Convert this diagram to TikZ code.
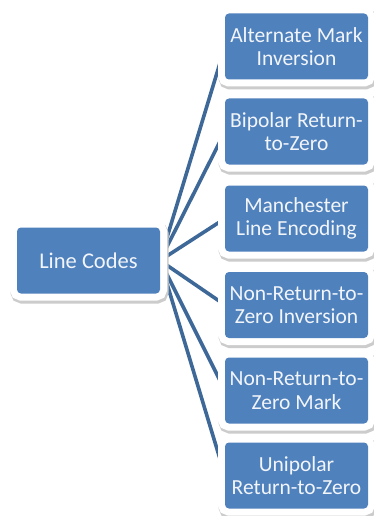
\documentclass[tikz,border=0pt]{standalone}
\usepackage{fontspec}
\setmainfont{Carlito}
\definecolor{boxblue}{HTML}{4F81BD}
\definecolor{linkblue}{HTML}{3E6897}
\definecolor{txt}{HTML}{F2F5FA}
\begin{document}
\begin{tikzpicture}[x=1pt,y=-1pt,
  blubox/.style={fill=boxblue, rounded corners=4pt, text=txt, align=center,
    inner sep=0pt, minimum width=143pt, minimum height=66pt,
    font=\fontsize{21.5}{23.5}\selectfont,
    preaction={draw=black!20, line width=15pt, rounded corners=4pt, transform canvas={yshift=-2.5pt, xshift=1pt}},
    preaction={draw=white, line width=14pt, rounded corners=4pt}},
  link/.style={draw=linkblue, line width=3.6pt}]
\useasboundingbox (0,0) rectangle (373,516);
\fill[white] (0,0) rectangle (373,516);
\coordinate (root) at (160,260.5);
\foreach \i/\y in {1/46.5,2/131.5,3/218.5,4/305,5/390.5,6/475.5}{
  \coordinate (e\i) at (225,\y);
  \draw[link] (root) -- (e\i);
}
\node[blubox, font=\fontsize{22.5}{24}\selectfont] (lc) at (88.5,260.5) {Line Codes};
\node[blubox] (c1) at (296.5,46.5) {Alternate Mark\\Inversion};
\node[blubox] (c2) at (296.5,131.5) {Bipolar Return-\\to-Zero};
\node[blubox] (c3) at (296.5,218.5) {Manchester\\Line Encoding};
\node[blubox] (c4) at (296.5,305) {Non-Return-to-\\Zero Inversion};
\node[blubox] (c5) at (296.5,390.5) {Non-Return-to-\\Zero Mark};
\node[blubox] (c6) at (296.5,475.5) {Unipolar\\Return-to-Zero};
\end{tikzpicture}
\end{document}
